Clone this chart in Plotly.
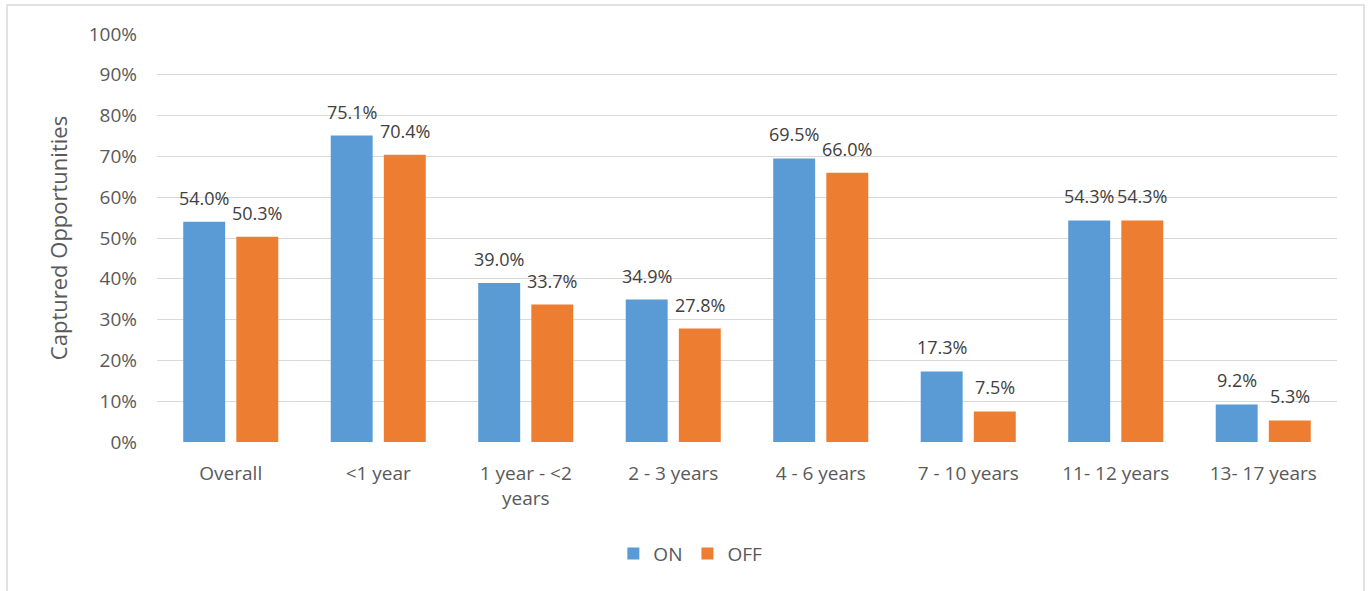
import plotly.graph_objects as go

categories = ["Overall", "<1 year", "1 year - <2<br>years", "2 - 3 years",
              "4 - 6 years", "7 - 10 years", "11- 12 years", "13- 17 years"]
on_values = [54.0, 75.1, 39.0, 34.9, 69.5, 17.3, 54.3, 9.2]
off_values = [50.3, 70.4, 33.7, 27.8, 66.0, 7.5, 54.3, 5.3]
y_ticks = [0, 10, 20, 30, 40, 50, 60, 70, 80, 90, 100]

FONT = "'Open Sans', sans-serif"
TEXT = "#595959"
LABEL = "#404040"

series = [("ON", on_values, "#5B9BD5", -26.5), ("OFF", off_values, "#ED7D31", 26.5)]

fig = go.Figure()
annotations = []
for name, vals, color, dx in series:
    fig.add_trace(go.Bar(
        name=name, x=categories, y=[v / 100 for v in vals],
        marker=dict(color=color, line=dict(width=0)),
    ))
    # value labels sit a little above each bar
    for cat, v in zip(categories, vals):
        annotations.append(dict(
            x=cat, y=v / 100, xref="x", yref="y", text=f"{v:.1f}%",
            showarrow=False, xanchor="center", yanchor="bottom",
            xshift=dx, yshift=10,
            font=dict(family=FONT, size=18, color=LABEL),
        ))

fig.update_layout(
    width=1370, height=591,
    margin=dict(l=157, r=33, t=34, b=149),
    paper_bgcolor="white", plot_bgcolor="white",
    barmode="group", bargap=0.28, bargroupgap=0.21,
    font=dict(family=FONT, color=TEXT, size=19),
    legend=dict(orientation="h", x=0.452, xanchor="center", y=-0.227, yanchor="top",
                font=dict(size=19, color=TEXT), traceorder="normal"),
    xaxis=dict(showgrid=False, showline=False, ticks="", ticklabelstandoff=18,
               tickfont=dict(size=19, color=TEXT)),
    yaxis=dict(range=[0, 1], tickvals=[t / 100 for t in y_ticks],
               ticktext=[f"{t}%" for t in y_ticks],
               showgrid=True, gridcolor="#D9D9D9", gridwidth=1.3, zeroline=False,
               showline=False, ticks="", ticklabelstandoff=19,
               tickfont=dict(size=19, color=TEXT),
               title=dict(text="Captured Opportunities", font=dict(size=22, color=TEXT),
                          standoff=14)),
    annotations=annotations,
    shapes=[dict(type="rect", xref="paper", yref="paper",
                 x0=(7 - 157) / 1180, x1=(1364 - 157) / 1180,
                 y0=-0.5, y1=(442 - 5) / 408,
                 line=dict(color="#D9D9D9", width=1.5), fillcolor="rgba(0,0,0,0)",
                 layer="below")],
)

fig.write_html("out.html")
